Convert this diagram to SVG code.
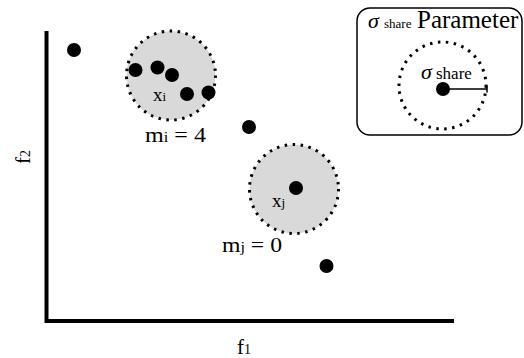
<svg xmlns="http://www.w3.org/2000/svg" width="524" height="358" viewBox="0 0 524 358">
<style>
.t{font-family:"Liberation Serif",serif;fill:#000}
.g{font-style:italic;font-family:"Liberation Serif",serif}
.niche{fill:#d9d9d9;stroke:#000;stroke-width:3;stroke-dasharray:2.5 5.5}
.ring{fill:none;stroke:#000;stroke-width:3;stroke-dasharray:2.5 5.5}
.pt{fill:#000}
.axis{stroke:#000;stroke-width:4;fill:none}
</style>
<rect width="524" height="358" fill="#fff"/>
<g id="axes">
<path class="axis" d="M46.5 31 V321 H454"/>
<text class="t" x="237" y="354" font-size="21">f<tspan font-size="14">1</tspan></text>
<text class="t" font-size="21" transform="translate(30,164) rotate(-90)">f<tspan font-size="14">2</tspan></text>
</g>
<g id="niche-i">
<circle class="niche" cx="171" cy="75.5" r="44.5"/>
<text class="t" x="153" y="101" font-size="19">x<tspan font-size="13">i</tspan></text>
<text class="t" x="145" y="142" font-size="22" textLength="61" lengthAdjust="spacingAndGlyphs">m<tspan font-size="15">i</tspan> = 4</text>
</g>
<g id="niche-j">
<circle class="niche" cx="294" cy="189" r="44.5"/>
<text class="t" x="272" y="207" font-size="19">x<tspan font-size="13">j</tspan></text>
<text class="t" x="222" y="252" font-size="22" textLength="60" lengthAdjust="spacingAndGlyphs">m<tspan font-size="15">j</tspan> = 0</text>
</g>
<g id="points">
<circle class="pt" cx="74" cy="50" r="7"/>
<circle class="pt" cx="135.5" cy="70" r="7"/>
<circle class="pt" cx="157.5" cy="67.5" r="7"/>
<circle class="pt" cx="172" cy="75" r="7"/>
<circle class="pt" cx="187" cy="94" r="7"/>
<circle class="pt" cx="208.5" cy="92.5" r="7"/>
<circle class="pt" cx="249" cy="127" r="7"/>
<circle class="pt" cx="296" cy="188" r="7"/>
<circle class="pt" cx="326.5" cy="266" r="7"/>
</g>
<g id="legend">
<rect x="357" y="8" width="165" height="127" rx="13" fill="#fff" stroke="#000" stroke-width="1.5"/>
<text class="t" x="368" y="28" font-size="22"><tspan class="g">σ</tspan><tspan x="384" font-size="13">share</tspan><tspan x="417" font-size="25">Parameter</tspan></text>
<circle class="ring" cx="442.5" cy="85.5" r="43.5"/>
<circle class="pt" cx="443" cy="89" r="7"/>
<path d="M443 89 H487 M487 85.5 V92.5" stroke="#000" stroke-width="1.5" fill="none"/>
<text class="t" x="421" y="79" font-size="22"><tspan class="g">σ</tspan><tspan x="436" font-size="17">share</tspan></text>
</g>
</svg>
